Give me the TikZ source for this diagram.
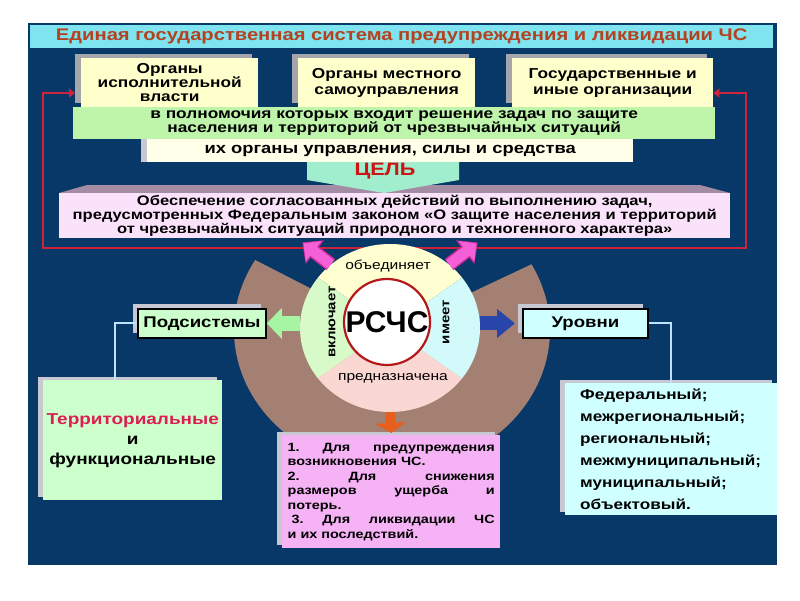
\documentclass[tikz,border=0pt]{standalone}
\usepackage{fontspec}
\setmainfont{Liberation Sans}[FakeStretch=1.2]
\newfontfamily\plainsans{Liberation Sans}
\usetikzlibrary{arrows.meta,shadows,shapes.geometric}

\definecolor{panelblue}{RGB}{8,56,104}
\definecolor{titlecyan}{RGB}{128,228,240}
\definecolor{titlered}{RGB}{180,66,30}
\definecolor{cream}{RGB}{255,255,204}
\definecolor{slabgray}{RGB}{165,165,172}
\definecolor{shadowlight}{RGB}{200,200,210}
\definecolor{bandgreen}{RGB}{190,245,170}
\definecolor{bandwhite}{RGB}{255,255,234}
\definecolor{goalgreen}{RGB}{160,238,205}
\definecolor{goalred}{RGB}{205,20,20}
\definecolor{aimpink}{RGB}{250,226,250}
\definecolor{aimtop}{RGB}{165,140,165}
\definecolor{framered}{RGB}{205,35,60}
\definecolor{ringbrown}{RGB}{163,128,113}
\definecolor{ringred}{RGB}{180,25,25}
\definecolor{qtop}{RGB}{255,255,210}
\definecolor{qright}{RGB}{210,250,250}
\definecolor{qbottom}{RGB}{250,215,210}
\definecolor{qleft}{RGB}{215,250,200}
\definecolor{arrowpink}{RGB}{245,95,215}
\definecolor{arrowpinkdark}{RGB}{200,40,150}
\definecolor{arrowgreen}{RGB}{165,245,165}
\definecolor{arrowblue}{RGB}{40,70,170}
\definecolor{arroworange}{RGB}{230,95,30}
\definecolor{subgreen}{RGB}{204,255,204}
\definecolor{levcyan}{RGB}{208,255,255}
\definecolor{terrred}{RGB}{220,30,85}
\definecolor{tieblue}{RGB}{190,225,255}
\definecolor{taskpink}{RGB}{245,178,245}

\newcommand{\fsz}[2]{\fontsize{#1}{#2}\selectfont}
\newcommand{\spreadline}[1]{\makebox[207pt]{#1}}

\tikzset{
	slab/.style={anchor=north west,inner sep=0pt,align=center,font=\bfseries\fsz{14.4}{16},
		general shadow={fill=slabgray,shadow xshift=-6pt,shadow yshift=4pt}},
	band/.style={anchor=north west,inner sep=0pt,align=center},
	keybox/.style={anchor=north west,inner sep=0pt,draw=black,line width=1.8pt,font=\bfseries\fsz{15.5}{16},
		general shadow={fill=shadowlight,shadow xshift=-5pt,shadow yshift=5pt}},
	listbox/.style={anchor=north west,inner ysep=0pt,
		general shadow={fill=shadowlight,shadow xshift=-5pt,shadow yshift=3pt}},
	fatarrow/.style args={#1/#2/#3}{line width=#1,-{Triangle[length=#2,width=#3]}},
	redframe/.style={draw=framered,line width=2.6pt},
	tie/.style={draw=tieblue,line width=2pt},
	word/.style={font=\fsz{13}{13}}
}

\begin{document}
\begin{tikzpicture}[>={Triangle[length=6pt,width=9pt]},x=1pt,y=1pt]
	\useasboundingbox (0,0) rectangle (800,-600);
	\fill[white] (0,0) rectangle (800,-600);
	\fill[panelblue] (28,-23) rectangle (777,-565);
	\node[band,fill=titlecyan,minimum width=743pt,minimum height=23pt,font=\bfseries\fsz{16.8}{17},text=titlered] (title) at (30,-25) {Единая государственная система предупреждения и ликвидации ЧС};
	% органы
	\node[slab,fill=cream,minimum width=177pt,minimum height=49pt,font=\bfseries\fsz{14.4}{14}] (exec) at (81,-58) {Органы\\исполнительной\\власти};
	\node[slab,fill=cream,minimum width=177pt,minimum height=49pt] (local) at (298,-58) {Органы местного\\самоуправления};
	\node[slab,fill=cream,minimum width=201pt,minimum height=49pt] (orgs) at (512,-58) {Государственные и\\иные организации};
	\node[band,fill=bandgreen,minimum width=642pt,minimum height=32pt,font=\bfseries\fsz{14.4}{14}] (powers) at (73,-107) {в полномочия которых входит решение задач по защите\\населения и территорий от чрезвычайных ситуаций};
	% цель
	\fill[aimtop] (87,-185) -- (700,-185) -- (730,-193) -- (59,-193) -- cycle;
	\node[band,fill=aimpink,minimum width=671pt,minimum height=45pt,font=\bfseries\fsz{13.8}{14}] (aim) at (59,-193) {Обеспечение согласованных действий по выполнению задач,\\предусмотренных Федеральным законом «О защите населения и территорий\\от чрезвычайных ситуаций природного и техногенного характера»};
	\fill[goalgreen] (307,-160) -- (459,-160) -- (459,-180) -- (384,-193) -- (307,-180) -- cycle;
	\node[band,fill=bandwhite,minimum width=486pt,minimum height=23pt,font=\bfseries\fsz{15.3}{16},
		general shadow={fill=shadowlight,shadow xshift=-6pt}] (means) at (147,-139) {их органы управления, силы и средства};
	\node[font=\bfseries\fsz{18}{18},text=goalred] (goal) at (385,-171) {ЦЕЛЬ};
	% рамка
	\coordinate (ytop) at (0,-93);
	\coordinate (fl) at (43,-248);
	\coordinate (fr) at (746,-248);
	\draw[redframe,<->,shorten <=6pt] (exec.west |- ytop) -| (fl) -- (fr) |- (orgs.east |- ytop);
	% РСЧС
	\fill[ringbrown] (392,-330) -- ++(150:158 and 140) arc[start angle=150,end angle=388,x radius=158,y radius=140] -- cycle;
	\node[keybox,fill=subgreen,minimum width=128pt,minimum height=29pt] (sub) at (137,-308) {Подсистемы};
	\node[keybox,fill=levcyan,minimum width=125pt,minimum height=29pt] (lev) at (522,-308) {Уровни};
	\node[listbox,fill=subgreen,inner xsep=0pt,minimum width=179pt,minimum height=120pt,align=center,font=\bfseries\fsz{15.8}{20}] (kinds) at (43,-380) {\textcolor{terrred}{Территориальные}\\и\\функциональные};
	\node[listbox,fill=levcyan,inner xsep=15pt,text width=182pt,minimum height=132pt,align=left,font=\bfseries\fsz{14.3}{22}] (tiers) at (565,-383) {Федеральный;\\межрегиональный;\\региональный;\\межмуниципальный;\\муниципальный;\\объектовый.};
	\node[listbox,fill=taskpink,inner xsep=5.5pt,text width=207pt,minimum height=113pt,align=left,font=\bfseries\fsz{12}{14.5}] (task) at (282,-435) {\spreadline{1.\hfill Для\hfill предупреждения}\\возникновения ЧС.\\\spreadline{2.\hfill Для\hfill снижения}\\\spreadline{размеров\hfill ущерба\hfill и}\\потерь.\\\spreadline{\hspace*{4pt}3.\hfill Для\hfill ликвидации\hfill ЧС}\\и их последствий.};
	\draw[tie] (sub.west) -| ([xshift=-17.5pt]kinds.north);
	\draw[tie] (lev.east) -| (tiers.north);
	\node[ellipse,minimum width=180pt,minimum height=168pt,inner sep=0pt,path picture={
		\foreach \a/\b/\col in {35/145/qtop,145/215/qleft,215/325/qbottom,325/395/qright}
			\fill[\col] (path picture bounding box.center) -- ++(\a:150) arc[start angle=\a,end angle=\b,radius=150] -- cycle;
	}] (rschs) at (390,-328) {};
	\coordinate (tipl) at (303,-243);
	\coordinate (tipr) at (477,-243);
	\foreach \tip/\side in {tipl/133,tipr/47}{
		\draw[fatarrow=14pt/16pt/29pt,arrowpinkdark,shorten >=-1pt] (rschs.\side) -- (\tip);
		\draw[fatarrow=11pt/13pt/25pt,arrowpink,shorten >=0.5pt] (rschs.\side) -- (\tip);
	}
	\draw[fatarrow=15pt/15pt/30pt,arrowgreen] (rschs.west |- sub.east) -- (sub.east);
	\draw[fatarrow=14pt/18pt/28pt,arrowblue] (rschs.east |- lev.west) -- ([xshift=-7pt]lev.west);
	\draw[fatarrow=10pt/10pt/30pt,arroworange] (rschs.south) -- ([yshift=2pt]task.north);
	\node[circle,draw=ringred,line width=2.2pt,fill=white,minimum size=86pt,inner sep=0pt,font=\plainsans\bfseries\fsz{30}{30}] (core) at (387,-322) {РСЧС};
	\node[word] (unites) at (388,-266) {объединяет};
	\node[word] (meant) at (393,-378) {предназначена};
	\node[word,font=\bfseries\fsz{12.5}{12.5},rotate=90] (incl) at (332,-322) {включает};
	\node[word,font=\bfseries\fsz{12.5}{12.5},rotate=90] (has) at (446,-322) {имеет};
\end{tikzpicture}
\end{document}
